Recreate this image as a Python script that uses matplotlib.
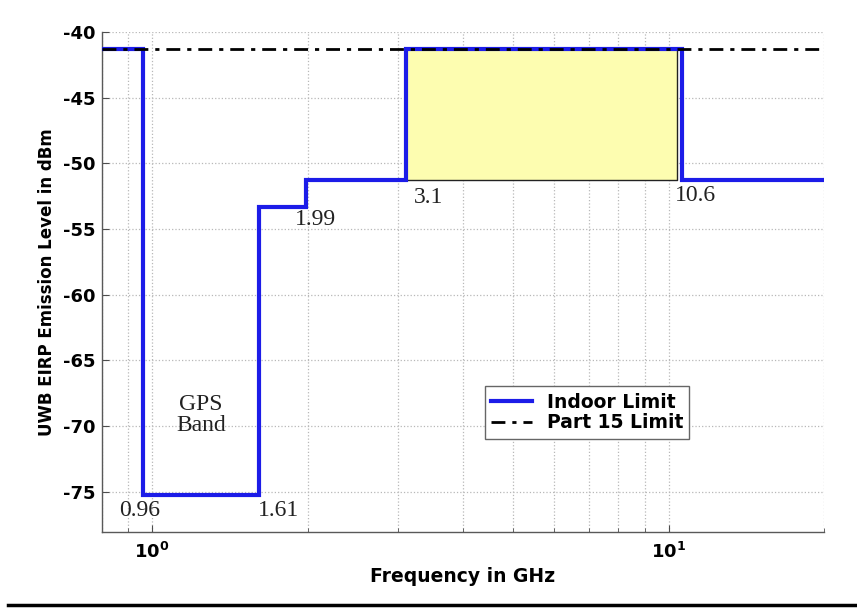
import matplotlib
matplotlib.use("Agg")
import matplotlib.pyplot as plt
from matplotlib.lines import Line2D
from matplotlib.ticker import FixedLocator, FixedFormatter, LogLocator, NullFormatter
import numpy as np

plt.rcParams['mathtext.fontset'] = 'dejavusans'

SANS = 'DejaVu Sans'
SERIF = 'Liberation Serif'

# ---- data ----
freq_edges = [0.8, 0.96, 1.61, 1.99, 3.1, 10.6, 20.0]
indoor_levels = [-41.3, -75.3, -53.3, -51.3, -41.3, -51.3]
part15_freq = [0.8, 20.0]
part15_level = [-41.3, -41.3]
shade_band = [3.1, 10.4]
shade_levels = [-51.3, -41.3]
break_labels = ['0.96', '1.61', '1.99', '3.1', '10.6']
break_freqs = [0.96, 1.61, 1.99, 3.1, 10.6]
break_levels = [-75.3, -75.3, -53.3, -51.3, -51.3]
yticks = [-75, -70, -65, -60, -55, -50, -45, -40]
ytick_labels = ['-75', '-70', '-65', '-60', '-55', '-50', '-45', '-40']
xticks = [1, 10]
xtick_labels = [r'$\mathbf{10^{0}}$', r'$\mathbf{10^{1}}$']
gps_band = [0.96, 1.61]
gps_level = -69.2

fig = plt.figure(figsize=(8.57, 6.08), dpi=100)
ax = fig.add_axes([102/857, 1-532/608, 722/857, 500/608])
ax.set_xscale('log')
ax.set_xlim(freq_edges[0], freq_edges[-1])
ax.set_ylim(-78.08, -40)

# shaded band
ax.fill_between(shade_band, shade_levels[0], shade_levels[1],
                facecolor='#fdfdb0', edgecolor='#222222', lw=1.0, zorder=2)

# indoor limit
ax.step(freq_edges, indoor_levels + [indoor_levels[-1]], where='post',
        color='#1c1ce8', lw=3.0, solid_joinstyle='miter', zorder=3,
        label='Indoor Limit')
# part 15
ax.plot(part15_freq, part15_level, color='black', lw=2.0,
        dashes=(5, 2.5, 1.5, 2.5), zorder=4, label='Part 15 Limit')

# annotations
offsets = [(-2, -11), (-1, -11), (-8, -9), (6, -12), (-5, -11)]
has = ['center', 'left', 'left', 'left', 'left']
for lab, f, lv, off, ha in zip(break_labels, break_freqs, break_levels, offsets, has):
    ax.annotate(lab, xy=(f, lv), xytext=off, textcoords='offset points',
                ha=ha, va='center', fontsize=17, family=SERIF,
                color='#222222')
ax.text(np.sqrt(gps_band[0]*gps_band[1]), gps_level, 'GPS\nBand', ha='center',
        va='center', fontsize=17, family=SERIF, linespacing=1.0,
        color='#222222')

# grid
ax.grid(True, which='major', ls=':', color='0.72', lw=0.9)
ax.xaxis.grid(True, which='minor', ls=':', color='0.72', lw=0.9)
ax.set_axisbelow(True)

# ticks
ax.xaxis.set_major_locator(FixedLocator(xticks))
ax.xaxis.set_major_formatter(FixedFormatter(xtick_labels))
ax.xaxis.set_minor_locator(LogLocator(base=10, subs=np.arange(2, 10), numticks=10))
ax.xaxis.set_minor_formatter(NullFormatter())
ax.yaxis.set_major_locator(FixedLocator(yticks))
ax.yaxis.set_major_formatter(FixedFormatter(ytick_labels))
ax.tick_params(axis='both', which='both', direction='in', color='0.3')
ax.tick_params(axis='y', labelsize=13, length=5, pad=4.5)
ax.tick_params(axis='x', which='major', labelsize=13, length=5, pad=7)
ax.tick_params(axis='x', which='minor', length=3)
for lbl in ax.get_yticklabels():
    lbl.set_fontweight('bold')
    lbl.set_family(SANS)

for s in ['top', 'right']:
    ax.spines[s].set_visible(False)
for s in ['left', 'bottom']:
    ax.spines[s].set_color('0.35')
    ax.spines[s].set_linewidth(1.0)

ax.set_xlabel('Frequency in GHz', fontsize=13.5, fontweight='bold',
              family=SANS, labelpad=4)
ax.set_ylabel('UWB EIRP Emission Level in dBm', fontsize=12, fontweight='bold',
              family=SANS, labelpad=5)

leg = ax.legend(loc='upper left', bbox_to_anchor=(0.530, 0.292), fancybox=False,
                framealpha=1, edgecolor='0.4',
                prop={'family': SANS, 'weight': 'bold', 'size': 13.5},
                handlelength=2.2, borderpad=0.35, labelspacing=0.1,
                handletextpad=0.75, borderaxespad=0)
leg.get_frame().set_linewidth(1.0)

fig.add_artist(Line2D([8/857, 1.0], [1-605/608, 1-605/608], color='black',
                      lw=2.5, transform=fig.transFigure))

fig.savefig('out.png', dpi=100)
